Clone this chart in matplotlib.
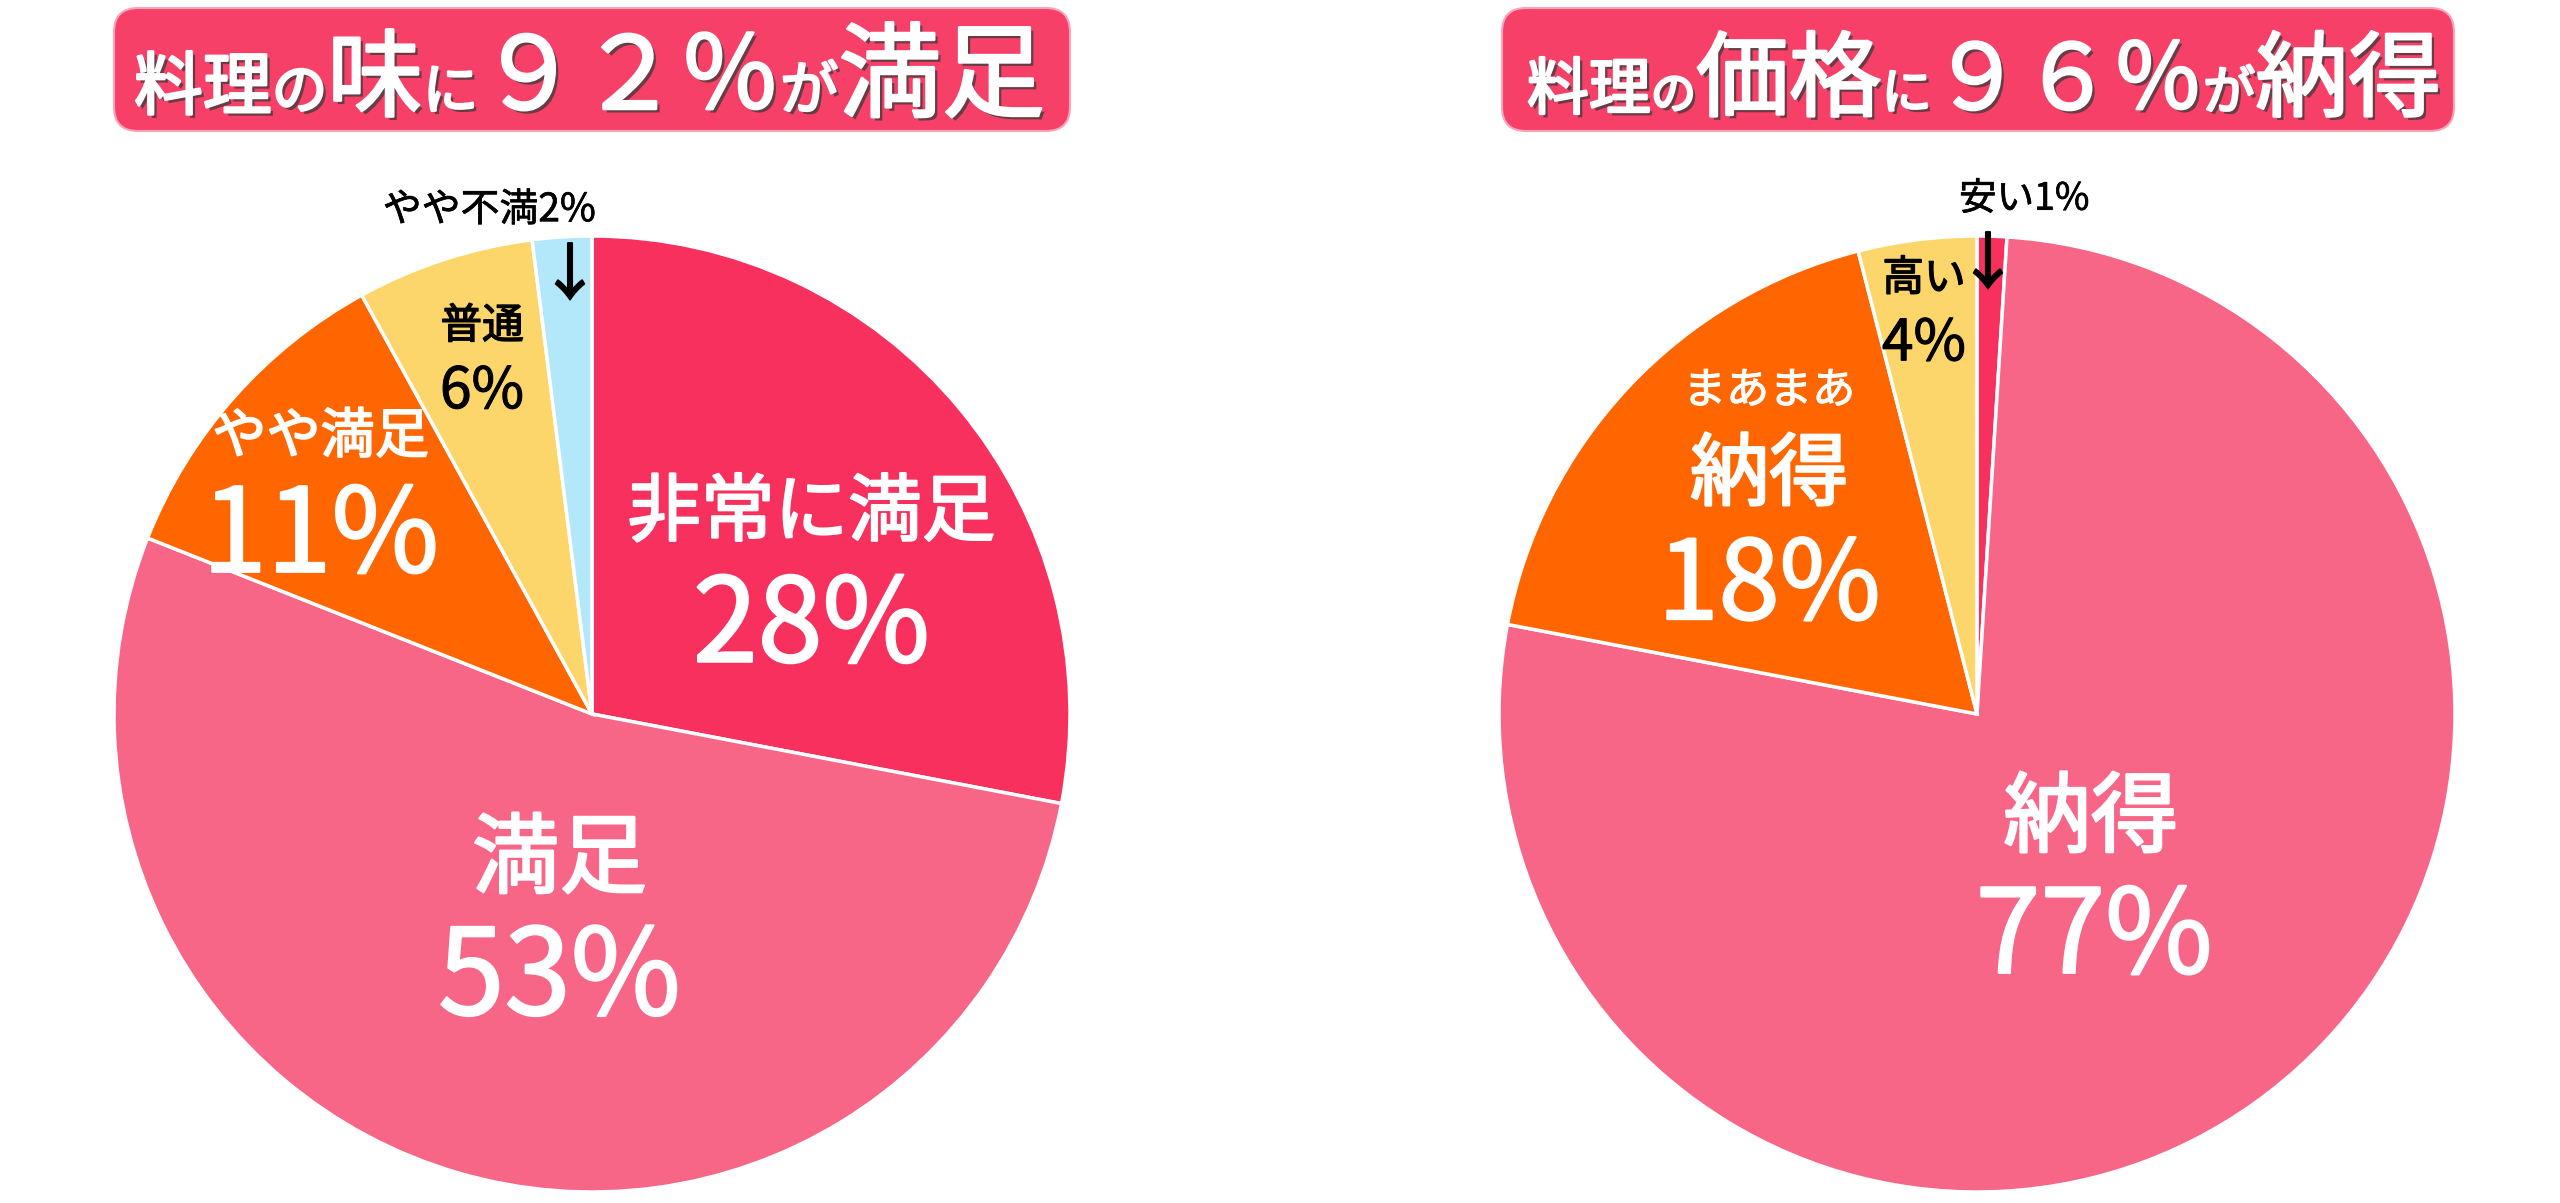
import matplotlib
matplotlib.use("Agg")
import matplotlib.pyplot as plt
from matplotlib.patches import FancyBboxPatch
import matplotlib.patheffects as pe

plt.rcParams['font.family'] = ['Noto Sans CJK JP', 'DejaVu Sans']

# left pie: taste satisfaction (clockwise from top)
taste_labels = ['非常に満足', '満足', 'やや満足', '普通', 'やや不満']
taste_values = [28, 53, 11, 6, 2]
taste_colors = ['#F7305E', '#F76587', '#FF6600', '#FDD66B', '#B3E8FB']

# right pie: price acceptance (clockwise from top)
price_labels = ['安い', '納得', 'まあまあ納得', '高い']
price_values = [1, 77, 18, 4]
price_colors = ['#F7305E', '#F76587', '#FF6600', '#FDD66B']

title_left = [('料理', 52), ('の', 42), ('味', 72), ('に', 42), ('９２％', 76), ('が', 44), ('満足', 78)]
title_right = [('料理', 52), ('の', 38), ('価格', 78), ('に', 42), ('９６％', 76), ('が', 44), ('納得', 78)]

W, H = 2560, 1203
fig = plt.figure(figsize=(W / 100, H / 100), dpi=100)
fig.patch.set_facecolor('white')

# overlay in pixel coordinates for title boxes
ov = fig.add_axes([0, 0, 1, 1], zorder=0)
ov.set_xlim(0, W)
ov.set_ylim(H, 0)
ov.axis('off')

renderer = fig.canvas.get_renderer()


def fx(color, lw):
    # thicken regular glyphs a little (reference uses a medium weight)
    return [pe.withStroke(linewidth=lw, foreground=color)]


title_fx = [pe.withSimplePatchShadow(offset=(2.5, -2.5), shadow_rgbFace='#3a3a3a', alpha=0.75),
            pe.Stroke(linewidth=1.8, foreground='white'), pe.Normal()]


def draw_title(segments, x0, x1, box, base):
    bx0, by0, bx1, by1 = box
    ov.add_patch(FancyBboxPatch((bx0, by0), bx1 - bx0, by1 - by0,
                                boxstyle='round,pad=0,rounding_size=24',
                                facecolor='#F74068', edgecolor='#F8A5B8', linewidth=1.5))
    # measure, then scale sizes so the line fits the span
    widths = []
    for s, size in segments:
        t = ov.text(0, 0, s, fontsize=size)
        widths.append(t.get_window_extent(renderer).width)
        t.remove()
    k = (x1 - x0) / sum(widths)
    x = x0
    for (s, size), w in zip(segments, widths):
        ov.text(x, base, s, fontsize=size * k, color='white',
                ha='left', va='baseline', path_effects=title_fx)
        x += w * k


draw_title(title_left, 134, 1045, (114, 8, 1070, 131), 109)
draw_title(title_right, 1527, 2441, (1502, 8, 2454, 131), 109)

r_px = 478


def pie_axes(cx, cy):
    return fig.add_axes([(cx - r_px) / W, (H - cy - r_px) / H, 2 * r_px / W, 2 * r_px / H], zorder=1)


wp = dict(edgecolor='white', linewidth=2.5)


def label(ax, x, y, s, size, color, lw):
    ax.text(x, y, s, fontsize=size, color=color, ha='center', va='center', path_effects=fx(color, lw))


ax1 = pie_axes(592, 714)
ax1.pie(taste_values, colors=taste_colors, startangle=90, counterclock=False, wedgeprops=wp)
ax1.set_xlim(-1, 1)
ax1.set_ylim(-1, 1)
ax1.axis('off')

label(ax1, 0.459, 0.418, taste_labels[0], 53, 'white', 1.6)
label(ax1, 0.459, 0.178, '28%', 84, 'white', 1.6)
label(ax1, -0.068, -0.308, taste_labels[1], 63, 'white', 1.8)
label(ax1, -0.068, -0.558, '53%', 86, 'white', 1.6)
label(ax1, -0.568, 0.579, taste_labels[2], 39, 'white', 1.3)
label(ax1, -0.568, 0.366, '11%', 84, 'white', 1.6)
label(ax1, -0.230, 0.810, taste_labels[3], 30, 'black', 1.0)
label(ax1, -0.230, 0.674, '6%', 41, 'black', 0.8)
label(ax1, -0.215, 1.054, taste_labels[4] + '2%', 28, 'black', 0.5)
label(ax1, -0.046, 0.914, '↓', 44, 'black', 1.4)

ax2 = pie_axes(1977, 714)
ax2.pie(price_values, colors=price_colors, startangle=90, counterclock=False, wedgeprops=wp)
ax2.set_xlim(-1, 1)
ax2.set_ylim(-1, 1)
ax2.axis('off')

label(ax2, 0.099, 1.077, price_labels[0] + '1%', 27, 'black', 0.5)
label(ax2, 0.023, 0.937, '↓', 44, 'black', 1.4)
label(ax2, -0.111, 0.910, price_labels[3], 30, 'black', 1.0)
label(ax2, -0.111, 0.774, '4%', 41, 'black', 0.8)
label(ax2, -0.435, 0.675, 'まあまあ', 31, 'white', 0.8)
label(ax2, -0.435, 0.497, '納得', 57, 'white', 1.8)
label(ax2, -0.435, 0.264, '18%', 79, 'white', 1.6)
label(ax2, 0.238, -0.222, price_labels[1], 63, 'white', 1.8)
label(ax2, 0.245, -0.473, '77%', 84, 'white', 1.6)

fig.savefig('out.png', dpi=100, facecolor='white')
